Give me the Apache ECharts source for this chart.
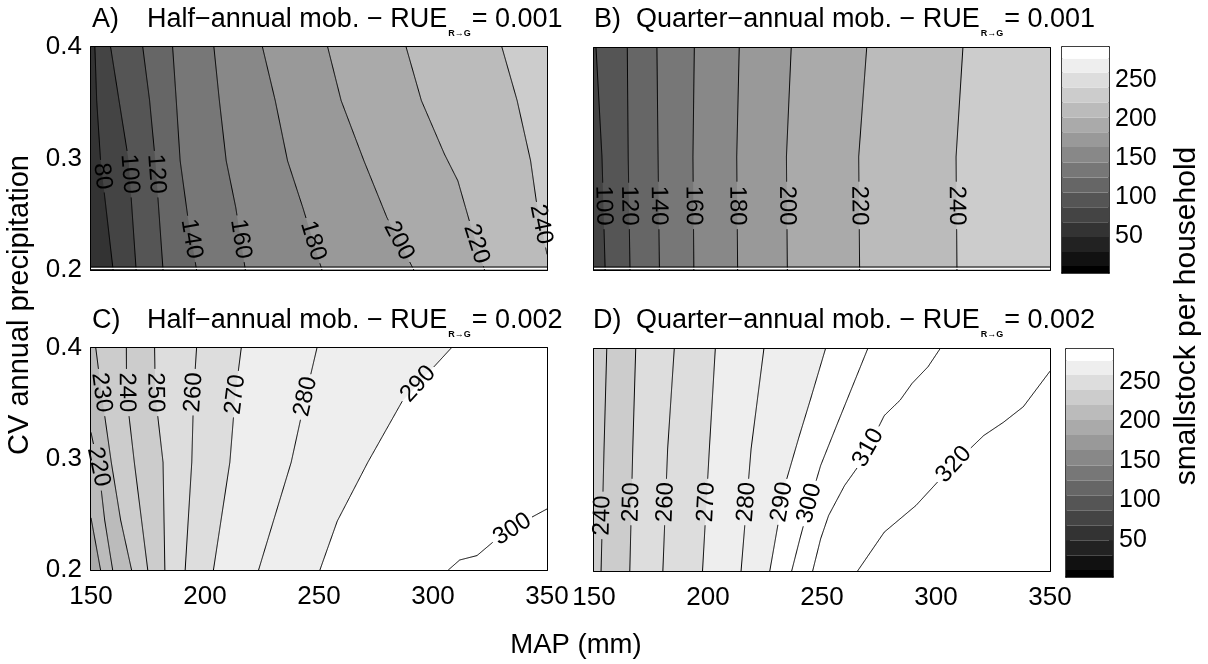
<!DOCTYPE html>
<html>
<head>
<meta charset="utf-8">
<script src="https://cdn.jsdelivr.net/npm/echarts@6/dist/echarts.min.js"></script>
<style>
html, body { margin: 0; padding: 0; background: #fff; }
#chart { width: 1208px; height: 664px; }
</style>
</head>
<body>
<div id="chart"></div>
<script>
// contour lines, points are [MAP (mm), CV]
// each line runs from one edge of the box to another, high side on the right
var levelsA = [80, 100, 120, 140, 160, 180, 200, 220, 240];
var linesA = [
  [[159.7, 0.2], [154.2, 0.298], [152.5, 0.352], [151.7, 0.4]],
  [[169.8, 0.2], [166.5, 0.298], [162.3, 0.352], [158.6, 0.4]],
  [[181.6, 0.2], [178.2, 0.298], [175.7, 0.352], [172.7, 0.4]],
  [[196.3, 0.2], [192.5, 0.247], [189.1, 0.298], [187.4, 0.352], [185.8, 0.4]],
  [[217.7, 0.2], [213.5, 0.256], [209.3, 0.298], [206.3, 0.352], [203.9, 0.4]],
  [[251.3, 0.2], [242.9, 0.256], [236.2, 0.298], [230.8, 0.352], [225.2, 0.4]],
  [[291.6, 0.2], [279.8, 0.247], [269.7, 0.298], [259.7, 0.352], [253.8, 0.4]],
  [[322.6, 0.2], [316.8, 0.238], [310.9, 0.28], [305.0, 0.304], [294.9, 0.352], [288.2, 0.4]],
  [[350, 0.214], [345.3, 0.262], [342.8, 0.298], [336.9, 0.352], [330.2, 0.4]]
];
var labelsA = [[154.2, 0.284], [165.6, 0.286], [177.4, 0.286], [194.2, 0.228], [216.0, 0.228],
  [247.1, 0.226], [284.8, 0.226], [318.4, 0.223], [345.3, 0.24]];

var levelsB = [100, 120, 140, 160, 180, 200, 220, 240];
var linesB = [
  [[154.9, 0.2], [153.5, 0.302], [150.9, 0.4]],
  [[165.8, 0.2], [165.0, 0.302], [164.6, 0.4]],
  [[178.7, 0.2], [178.1, 0.302], [177.6, 0.4]],
  [[193.8, 0.2], [193.4, 0.302], [194.0, 0.4]],
  [[213.0, 0.2], [212.6, 0.302], [213.7, 0.4]],
  [[234.8, 0.2], [234.4, 0.302], [236.5, 0.4]],
  [[266.5, 0.2], [266.1, 0.302], [269.6, 0.4]],
  [[309.2, 0.2], [308.8, 0.302], [311.8, 0.4]]
];
var labelsB = [[154.4, 0.258], [165.4, 0.258], [178.4, 0.258], [193.6, 0.258], [212.8, 0.258],
  [234.6, 0.258], [266.3, 0.258], [309.0, 0.258]];

var levelsC = [210, 220, 230, 240, 250, 260, 270, 280, 290, 300];
var linesC = [
  [[154.2, 0.2], [150, 0.247]],
  [[159.5, 0.2], [156, 0.245], [153.5, 0.29], [150, 0.324]],
  [[167.8, 0.2], [163, 0.245], [158.9, 0.297], [154.7, 0.358], [152.1, 0.4]],
  [[174.9, 0.2], [169.0, 0.297], [165.6, 0.358], [165.5, 0.4]],
  [[182.4, 0.2], [181.6, 0.297], [178.2, 0.358], [177.9, 0.4]],
  [[191.3, 0.2], [194.2, 0.297], [195.0, 0.358], [196.3, 0.4]],
  [[203.7, 0.2], [210.9, 0.297], [213.3, 0.358], [215.9, 0.4]],
  [[223.5, 0.2], [237.8, 0.297], [244.3, 0.358], [249.1, 0.4]],
  [[250.4, 0.2], [258, 0.244], [271.4, 0.297], [286.5, 0.352], [308, 0.4]],
  [[306.7, 0.2], [311.7, 0.209], [319.3, 0.213], [326.8, 0.226], [333.5, 0.235], [341.9, 0.246], [350, 0.255]]
];
var labelsC = [null, [153.5, 0.293], [154.7, 0.36], [165.6, 0.36], [178.2, 0.36], [195.0, 0.36],
  [213.5, 0.358], [244.5, 0.356], [293.2, 0.368], [333.5, 0.241]];

var levelsD = [240, 250, 260, 270, 280, 290, 300, 310, 320];
var linesD = [
  [[153.1, 0.2], [154.4, 0.31], [155.6, 0.4]],
  [[165.7, 0.2], [167.0, 0.31], [168.3, 0.4]],
  [[180.2, 0.2], [182.3, 0.31], [185.2, 0.4]],
  [[197.6, 0.2], [200.6, 0.31], [203.2, 0.4]],
  [[214.5, 0.2], [218.9, 0.31], [224.5, 0.4]],
  [[227.1, 0.2], [233.7, 0.277], [239.8, 0.32], [245, 0.355], [251.5, 0.4]],
  [[236.7, 0.2], [240.3, 0.229], [244.5, 0.261], [249.4, 0.295], [256.4, 0.331], [263.3, 0.366], [270, 0.4]],
  [[245.9, 0.2], [249.4, 0.229], [252.9, 0.25], [259.9, 0.277], [265.1, 0.292], [270.3, 0.311],
    [277.3, 0.34], [284.3, 0.354], [289.5, 0.369], [296.5, 0.384], [301.7, 0.4]],
  [[265.6, 0.2], [277.3, 0.235], [291.2, 0.259], [307.8, 0.296], [320.9, 0.322], [329.6, 0.334],
    [338.3, 0.348], [350, 0.38]]
];
var labelsD = [[153.8, 0.25], [166.5, 0.262], [181.8, 0.262], [199.8, 0.262], [217.5, 0.262],
  [232.8, 0.262], [244.5, 0.261], [270.3, 0.311], [307.8, 0.296]];

// grey steps used by the filled bands (value where each step starts)
var fillEdges = [2, 21, 40, 59, 78, 97, 116, 134, 153, 172, 191, 210, 229, 248, 267, 286];
// colour bar
var cbarTicks = [50, 100, 150, 200, 250];
var cbarEdges = [3, 12, 30, 49, 68, 87, 106, 125, 144, 164, 183, 202, 221, 240, 259, 277, 292];

var titles = [
  ['A)', 'Half\u2212annual mob. \u2212 RUE', '= 0.001'],
  ['B)', 'Quarter\u2212annual mob. \u2212 RUE', '= 0.001'],
  ['C)', 'Half\u2212annual mob. \u2212 RUE', '= 0.002'],
  ['D)', 'Quarter\u2212annual mob. \u2212 RUE', '= 0.002']
];

var FONT = '"Liberation Sans", Arial, Helvetica, sans-serif';
var X0 = 150, X1 = 350, Y0 = 0.2, Y1 = 0.4;
var CMIN = 3, CMAX = 292;

var boxes = [
  { left: 91, top: 47, width: 456, height: 223 },
  { left: 594, top: 48, width: 456, height: 222 },
  { left: 91, top: 348, width: 456, height: 222 },
  { left: 594, top: 349, width: 456, height: 222 }
];
var cbars = [
  { left: 1062, top: 47, width: 47, height: 226 },
  { left: 1066, top: 349, width: 47, height: 228 }
];

var ctx = document.createElement('canvas').getContext('2d');
function textWidth(s, font) {
  ctx.font = font;
  return ctx.measureText(s).width;
}

function grayOf(v) {
  var k = 0;
  while (k < fillEdges.length - 1 && v >= fillEdges[k + 1]) k++;
  var g = Math.round(255 * k / (fillEdges.length - 1));
  return 'rgb(' + g + ',' + g + ',' + g + ')';
}

// position of a boundary point, clockwise round the box
function perim(p) {
  if (Math.abs(p[1] - Y1) < 1e-9) return (p[0] - X0) / (X1 - X0);
  if (Math.abs(p[0] - X1) < 1e-9) return 1 + (Y1 - p[1]) / (Y1 - Y0);
  if (Math.abs(p[1] - Y0) < 1e-9) return 2 + (X1 - p[0]) / (X1 - X0);
  return 3 + (p[1] - Y0) / (Y1 - Y0);
}
var corners = [[X0, Y1], [X1, Y1], [X1, Y0], [X0, Y0]];
function regionAbove(line) {
  var ts = perim(line[0]), te = perim(line[line.length - 1]);
  if (ts < te) ts += 4;
  var pts = line.slice();
  for (var k = Math.ceil(te); k < ts; k++) {
    if (k > te) pts.push(corners[k % 4]);
  }
  return pts;
}

function nearest(pts, q) {
  var best = null, bd = Infinity;
  for (var i = 0; i < pts.length - 1; i++) {
    var a = pts[i], b = pts[i + 1], dx = b[0] - a[0], dy = b[1] - a[1];
    var t = ((q[0] - a[0]) * dx + (q[1] - a[1]) * dy) / (dx * dx + dy * dy);
    t = Math.max(0, Math.min(1, t));
    var x = a[0] + dx * t, y = a[1] + dy * t, d = Math.hypot(x - q[0], y - q[1]);
    if (d < bd) { bd = d; best = { x: x, y: y, dx: dx, dy: dy }; }
  }
  return best;
}

// cut the piece of line that sits under a label
function splitLine(pts, c, r) {
  var out = [], cur = [];
  for (var i = 0; i < pts.length - 1; i++) {
    var a = pts[i], b = pts[i + 1];
    var n = Math.max(1, Math.ceil(Math.hypot(b[0] - a[0], b[1] - a[1])));
    for (var j = 0; j <= n; j++) {
      if (j === n && i < pts.length - 2) continue;
      var x = a[0] + (b[0] - a[0]) * j / n, y = a[1] + (b[1] - a[1]) * j / n;
      if (!c || Math.hypot(x - c[0], y - c[1]) > r) cur.push([x, y]);
      else { if (cur.length > 1) out.push(cur); cur = []; }
    }
  }
  if (cur.length > 1) out.push(cur);
  return out;
}

function contourSeries(p, levels, lines, labels) {
  var step = levels[1] - levels[0];
  var labelFont = '24px ' + FONT;
  return {
    type: 'custom',
    xAxisIndex: 2 * p,
    yAxisIndex: 2 * p,
    silent: true,
    data: levels.map(function (v, i) { return [i]; }),
    renderItem: function (params, api) {
      var i = params.dataIndex;
      var toPx = function (d) { return api.coord(d); };
      var kids = [];
      if (i === 0) {
        var a = api.coord([X0, Y1]), b = api.coord([X1, Y0]);
        kids.push({ type: 'rect', z2: 0,
          shape: { x: a[0], y: a[1], width: b[0] - a[0], height: b[1] - a[1] },
          style: { fill: grayOf(levels[0] - step) } });
        if (p < 2) {
          // thin double rule just above the bottom axis in the top panels
          kids.push({ type: 'rect', z2: 200,
            shape: { x: a[0], y: b[1] - 2.5, width: b[0] - a[0], height: 1.5 }, style: { fill: '#fff' } });
          kids.push({ type: 'line', z2: 200,
            shape: { x1: a[0], y1: b[1] - 3, x2: b[0], y2: b[1] - 3 }, style: { stroke: '#000', lineWidth: 1 } });
        }
      }
      kids.push({ type: 'polygon', z2: 1 + i,
        shape: { points: regionAbove(lines[i]).map(toPx) },
        style: { fill: grayOf(levels[i]) } });
      var px = lines[i].map(toPx);
      var c = null, r = 0;
      if (labels[i]) {
        var near = nearest(px, api.coord(labels[i]));
        var ang = Math.atan2(-near.dy, near.dx);
        if (ang > Math.PI / 2) ang -= Math.PI;
        if (ang <= -Math.PI / 2) ang += Math.PI;
        var txt = String(levels[i]);
        c = [near.x, near.y];
        r = textWidth(txt, labelFont) / 2 + 3;
        kids.push({ type: 'text', z2: 101, x: near.x, y: near.y, rotation: ang,
          style: { text: txt, font: labelFont, fill: '#000', align: 'center', verticalAlign: 'middle' } });
      }
      splitLine(px, c, r).forEach(function (seg) {
        kids.push({ type: 'polyline', z2: 100, shape: { points: seg },
          style: { stroke: '#000', lineWidth: 1, fill: null } });
      });
      return { type: 'group', children: kids };
    }
  };
}

function mapAxis(g, pos, showLabel) {
  return {
    type: 'value', gridIndex: g, position: pos, min: 150, max: 350, interval: 50,
    axisLine: { show: true, onZero: false, lineStyle: { color: '#000', width: 2 } },
    axisTick: { show: true, inside: true, length: 5, lineStyle: { color: '#000', width: 1 } },
    axisLabel: { show: showLabel, color: '#000', fontSize: 26, fontFamily: FONT, margin: 14 },
    splitLine: { show: false }
  };
}
function cvAxis(g, pos, showLabel) {
  return {
    type: 'value', gridIndex: g, position: pos, min: 0.2, max: 0.4, interval: 0.1,
    axisLine: { show: true, onZero: false, lineStyle: { color: '#000', width: 2 } },
    axisTick: { show: true, inside: true, length: 5, lineStyle: { color: '#000', width: 1 } },
    axisLabel: { show: showLabel, color: '#000', fontSize: 26, fontFamily: FONT, margin: 9,
      formatter: function (v) { return v.toFixed(1); } },
    splitLine: { show: false }
  };
}

var grids = [], xAxes = [], yAxes = [], series = [];
var sets = [[levelsA, linesA, labelsA], [levelsB, linesB, labelsB], [levelsC, linesC, labelsC], [levelsD, linesD, labelsD]];
boxes.forEach(function (b, p) {
  grids.push(b);
  xAxes.push(mapAxis(p, 'bottom', p >= 2));
  xAxes.push(mapAxis(p, 'top', false));
  yAxes.push(cvAxis(p, 'left', p % 2 === 0));
  yAxes.push(cvAxis(p, 'right', false));
  series.push(contourSeries(p, sets[p][0], sets[p][1], sets[p][2]));
});

cbars.forEach(function (b, k) {
  var g = 4 + k;
  grids.push(b);
  ['bottom', 'top'].forEach(function (pos) {
    xAxes.push({ type: 'value', gridIndex: g, position: pos, min: 0, max: 1,
      axisLine: { show: true, onZero: false, lineStyle: { color: '#000', width: 1.5 } },
      axisTick: { show: false }, axisLabel: { show: false }, splitLine: { show: false } });
  });
  ['left', 'right'].forEach(function (pos) {
    yAxes.push({ type: 'value', gridIndex: g, position: pos, min: CMIN, max: CMAX,
      axisLine: { show: true, onZero: false, lineStyle: { color: '#000', width: 1.5 } },
      axisTick: { show: true, inside: true, length: 4, customValues: cbarTicks, lineStyle: { color: '#000' } },
      axisLabel: { show: pos === 'right', customValues: cbarTicks, color: '#000', fontSize: 25, fontFamily: FONT, margin: 6 },
      splitLine: { show: false } });
  });
  series.push({
    type: 'custom',
    xAxisIndex: 8 + 2 * k,
    yAxisIndex: 8 + 2 * k,
    silent: true,
    data: cbarEdges.slice(1).map(function (v, i) { return [i]; }),
    renderItem: function (params, api) {
      var i = params.dataIndex;
      var a = api.coord([0, cbarEdges[i + 1]]), c = api.coord([1, cbarEdges[i]]);
      var gr = Math.round(255 * i / (cbarEdges.length - 2));
      return { type: 'rect', shape: { x: a[0], y: a[1], width: c[0] - a[0], height: c[1] - a[1] },
        style: { fill: 'rgb(' + gr + ',' + gr + ',' + gr + ')' } };
    }
  });
});

// panel titles with the R->G subscript
var graphics = [];
var titleFont = '27px ' + FONT, subFont = 'bold 9px ' + FONT;
var titlePos = [[92, 147, 20], [594, 636, 20], [92, 147, 321], [593, 636, 321]];
titles.forEach(function (t, p) {
  var x = titlePos[p][1], y = titlePos[p][2];
  graphics.push({ type: 'text', x: titlePos[p][0], y: y,
    style: { text: t[0], font: titleFont, fill: '#000', verticalAlign: 'middle' } });
  graphics.push({ type: 'text', x: x, y: y,
    style: { text: t[1], font: titleFont, fill: '#000', verticalAlign: 'middle' } });
  var x2 = x + textWidth(t[1], titleFont) + 1;
  graphics.push({ type: 'text', x: x2, y: y + 14,
    style: { text: 'R\u2192G', font: subFont, fill: '#000', verticalAlign: 'middle' } });
  var x3 = x2 + textWidth('R\u2192G', subFont) + 1;
  graphics.push({ type: 'text', x: x3, y: y,
    style: { text: t[2], font: titleFont, fill: '#000', verticalAlign: 'middle' } });
});
function sideLabel(x, y, txt, rot, size) {
  return { type: 'text', x: x, y: y, rotation: rot,
    style: { text: txt, font: size + 'px ' + FONT, fill: '#000', align: 'center', verticalAlign: 'middle' } };
}
graphics.push(sideLabel(20, 305, 'CV annual precipitation', Math.PI / 2, 29));
graphics.push(sideLabel(576, 645, 'MAP (mm)', 0, 27.5));
graphics.push(sideLabel(1187, 316, 'smallstock per household', Math.PI / 2, 30));

var chart = echarts.init(document.getElementById('chart'));
chart.setOption({
  animation: false,
  backgroundColor: '#fff',
  grid: grids,
  xAxis: xAxes,
  yAxis: yAxes,
  series: series,
  graphic: graphics
});
</script>
</body>
</html>
